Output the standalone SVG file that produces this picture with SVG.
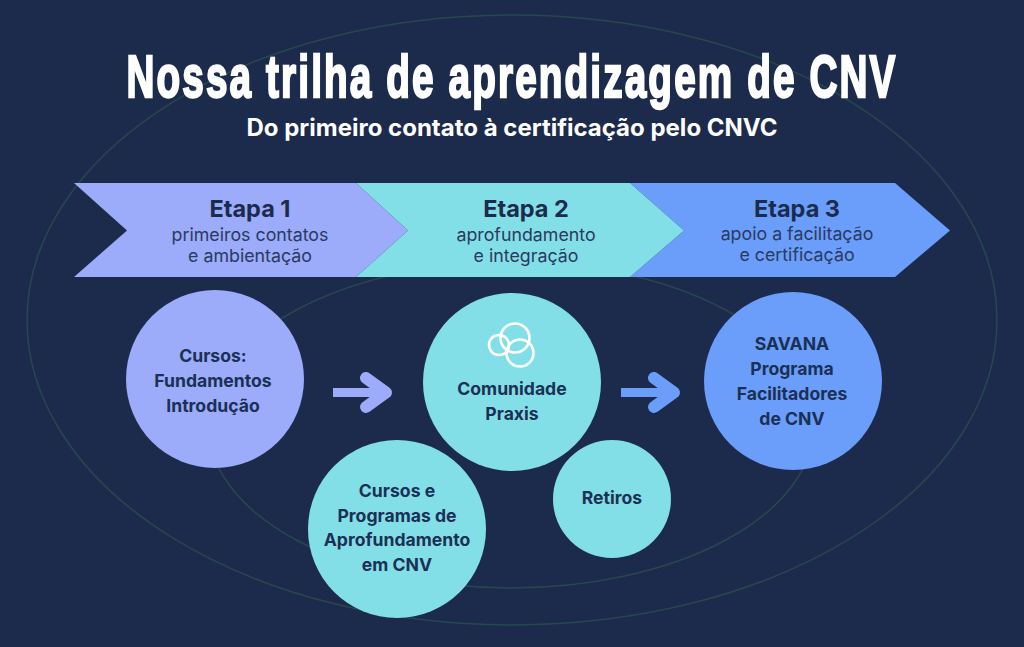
<svg xmlns="http://www.w3.org/2000/svg" width="1024" height="647" viewBox="0 0 1024 647">
<style>
text{font-family:Inter,"Liberation Sans",sans-serif;text-anchor:middle}
.h{font-size:23.500px;font-weight:700;fill:#1c2b4c}
.s{font-size:17.800px;font-weight:400;fill:#2a3a60}
.n{font-size:17.600px;font-weight:700;fill:#1b3054}
.ring{fill:none;stroke:#27474f;stroke-width:1.5}
.ic{fill:none;stroke:#fff;stroke-width:2.600}
.sh{stroke-width:9}
.hd{stroke-width:12;stroke-linecap:round;stroke-linejoin:round}
</style>
<rect width="1024" height="647" fill="#1c2b4c"/>
<ellipse class="ring" cx="512" cy="320" rx="485" ry="305"/>
<ellipse class="ring" cx="511" cy="425" rx="303" ry="163"/>
<text x="0" y="0" transform="translate(512 97) scale(0.645 1)" style="font-family:'Liberation Sans',sans-serif;font-weight:700;font-size:60px;letter-spacing:3.300px;fill:#fff;stroke:#fff;stroke-width:2.400">Nossa trilha de aprendizagem de CNV</text>
<text x="512" y="136" style="font-size:24px;font-weight:700;fill:#fff">Do primeiro contato à certificação pelo CNVC</text>
<g id="etapa1"><polygon points="74,183 356,183 408,230.500 356,277 74,277 127,230.500" fill="#9cabfa"/>
<text class="h" x="250" y="217">Etapa 1</text><text class="s" x="250" y="241">primeiros contatos</text><text class="s" x="250" y="262">e ambientação</text></g>
<g id="etapa3"><polygon points="630,183 895,183 950,230.500 895,277 630,277 684,230.500" fill="#6a9efa"/>
<text class="h" x="797" y="217">Etapa 3</text><text class="s" x="797" y="240">apoio a facilitação</text><text class="s" x="797" y="261">e certificação</text></g>
<g id="etapa2"><polygon points="356,183 630,183 684,230.500 630,277 356,277 408,230.500" fill="#83dfe7"/>
<text class="h" x="526" y="217">Etapa 2</text><text class="s" x="526" y="241">aprofundamento</text><text class="s" x="526" y="262">e integração</text></g>
<g id="cursos"><circle cx="215" cy="379" r="89" fill="#9cabfa"/><text class="n" x="213" y="362">Cursos:</text><text class="n" x="213" y="387">Fundamentos</text><text class="n" x="213" y="412">Introdução</text></g>
<g id="comunidade"><circle cx="512" cy="382" r="89" fill="#83dfe7"/>
<circle class="ic" cx="515" cy="338" r="14.500"/><circle class="ic" cx="520" cy="353" r="13.500"/><circle class="ic" cx="499" cy="345" r="10"/>
<text class="n" x="512" y="395">Comunidade</text><text class="n" x="512" y="420">Praxis</text></g>
<g id="savana"><circle cx="793" cy="381" r="89" fill="#6a9efa"/><text class="n" x="792" y="350">SAVANA</text><text class="n" x="792" y="375">Programa</text><text class="n" x="792" y="400">Facilitadores</text><text class="n" x="792" y="425">de CNV</text></g>
<g id="aprofundamento"><circle cx="397" cy="529" r="89" fill="#83dfe7"/><text class="n" x="397" y="497">Cursos e</text><text class="n" x="397" y="522">Programas de</text><text class="n" x="397" y="546">Aprofundamento</text><text class="n" x="397" y="571">em CNV</text></g>
<g id="retiros"><circle cx="612" cy="499" r="59" fill="#83dfe7"/><text class="n" x="612" y="504">Retiros</text></g>
<g id="connectors" fill="none">
<g stroke="#9cabfa"><path class="sh" d="M333 392.500H384"/><path class="hd" d="M366 378L386 392.500L366 407"/></g>
<g stroke="#6a9efa"><path class="sh" d="M621 392.500H672"/><path class="hd" d="M654 378L674 392.500L654 407"/></g>
</g>
</svg>
